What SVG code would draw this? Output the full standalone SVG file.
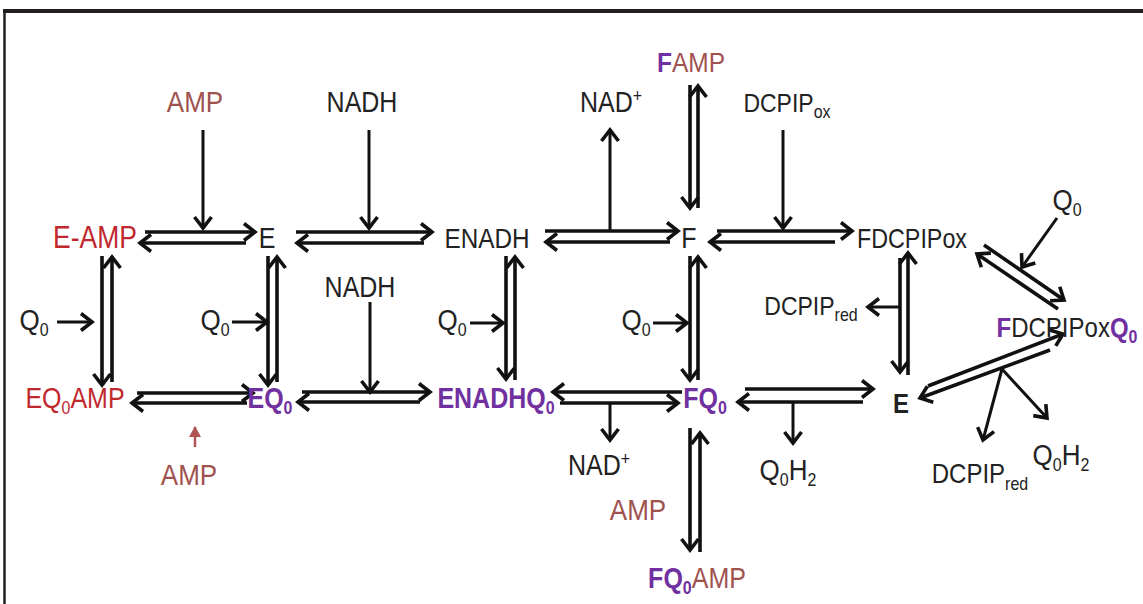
<svg xmlns="http://www.w3.org/2000/svg" width="1143" height="604" viewBox="0 0 1143 604">
<style>
.t{font-family:"Liberation Sans",Arial,sans-serif;font-size:25px;fill:#222;text-anchor:middle}
.s{font-size:16px}
.amp{fill:#a0524f}
.red{fill:#c0282e}
.pur{fill:#7030a0;font-weight:bold}
.c line,.c path{stroke:#111;fill:none}
.d{stroke-width:3.6}
.sg{stroke-width:3}
</style>
<defs>
<marker id="ah" markerUnits="userSpaceOnUse" markerWidth="16" markerHeight="20" viewBox="0 0 16 20" refX="12.5" refY="10" orient="auto" overflow="visible">
<path d="M1.5,1.5 L12.5,10 L1.5,18.5" fill="none" stroke="#111" stroke-width="3.6"/>
</marker>
<marker id="rh" markerUnits="userSpaceOnUse" markerWidth="12" markerHeight="12" viewBox="0 0 12 12" refX="10" refY="6" orient="auto" overflow="visible">
<path d="M0,0 L11,6 L0,12 Z" fill="#b05555"/>
</marker>
</defs>
<rect width="1143" height="604" fill="#fff"/>
<g id="frame">
<line x1="3" y1="11" x2="1143" y2="11" stroke="#231f20" stroke-width="4"/>
<line x1="4.5" y1="9" x2="4.5" y2="604" stroke="#231f20" stroke-width="2.5"/>
</g>
<g id="connectors" class="c">
<line class="d" x1="145" y1="232" x2="255" y2="232" marker-end="url(#ah)"/>
<line class="d" x1="246" y1="243" x2="140" y2="243" marker-end="url(#ah)"/>
<line class="d" x1="296" y1="232" x2="432" y2="232" marker-end="url(#ah)"/>
<line class="d" x1="424" y1="243" x2="297" y2="243" marker-end="url(#ah)"/>
<line class="d" x1="545" y1="231" x2="678" y2="231" marker-end="url(#ah)"/>
<line class="d" x1="670" y1="242" x2="546" y2="242" marker-end="url(#ah)"/>
<line class="d" x1="717" y1="231" x2="852" y2="231" marker-end="url(#ah)"/>
<line class="d" x1="835" y1="242" x2="710" y2="242" marker-end="url(#ah)"/>
<line class="sg" x1="203" y1="130" x2="203" y2="228" marker-end="url(#ah)"/>
<line class="sg" x1="369" y1="130" x2="369" y2="228" marker-end="url(#ah)"/>
<line class="sg" x1="610" y1="230" x2="610" y2="130" marker-end="url(#ah)"/>
<line class="sg" x1="783" y1="130" x2="783" y2="228" marker-end="url(#ah)"/>
<line class="d" x1="690" y1="85" x2="690" y2="208" marker-end="url(#ah)"/>
<line class="d" x1="698" y1="208" x2="698" y2="86" marker-end="url(#ah)"/>
<line class="d" x1="102" y1="256" x2="102" y2="385" marker-end="url(#ah)"/>
<line class="d" x1="112" y1="382" x2="112" y2="257" marker-end="url(#ah)"/>
<line class="d" x1="268" y1="256" x2="268" y2="385" marker-end="url(#ah)"/>
<line class="d" x1="277" y1="382" x2="277" y2="257" marker-end="url(#ah)"/>
<line class="d" x1="506" y1="256" x2="506" y2="379" marker-end="url(#ah)"/>
<line class="d" x1="515" y1="380" x2="515" y2="257" marker-end="url(#ah)"/>
<line class="d" x1="690" y1="256" x2="690" y2="380" marker-end="url(#ah)"/>
<line class="d" x1="698" y1="380" x2="698" y2="257" marker-end="url(#ah)"/>
<line class="d" x1="900" y1="258" x2="900" y2="372" marker-end="url(#ah)"/>
<line class="d" x1="908" y1="375" x2="908" y2="253" marker-end="url(#ah)"/>
<line class="sg" x1="57" y1="322" x2="92" y2="322" marker-end="url(#ah)"/>
<line class="sg" x1="232" y1="322" x2="267" y2="322" marker-end="url(#ah)"/>
<line class="sg" x1="470" y1="323" x2="503" y2="323" marker-end="url(#ah)"/>
<line class="sg" x1="653" y1="323" x2="687" y2="323" marker-end="url(#ah)"/>
<line class="sg" x1="900" y1="307" x2="868" y2="307" marker-end="url(#ah)"/>
<line class="sg" x1="370" y1="302" x2="370" y2="392" marker-end="url(#ah)"/>
<line class="d" x1="137" y1="393" x2="253" y2="393" marker-end="url(#ah)"/>
<line class="d" x1="247" y1="403" x2="132" y2="403" marker-end="url(#ah)"/>
<line class="d" x1="302" y1="392" x2="430" y2="392" marker-end="url(#ah)"/>
<line class="d" x1="420" y1="402" x2="298" y2="402" marker-end="url(#ah)"/>
<line class="d" x1="682" y1="392" x2="553" y2="392" marker-end="url(#ah)"/>
<line class="d" x1="560" y1="403" x2="678" y2="403" marker-end="url(#ah)"/>
<line class="sg" x1="610" y1="403" x2="610" y2="440" marker-end="url(#ah)"/>
<line class="d" x1="745" y1="389" x2="873" y2="389" marker-end="url(#ah)"/>
<line class="d" x1="863" y1="402" x2="738" y2="402" marker-end="url(#ah)"/>
<line class="sg" x1="793" y1="402" x2="793" y2="443" marker-end="url(#ah)"/>
<line class="d" x1="690" y1="428" x2="690" y2="550" marker-end="url(#ah)"/>
<line class="d" x1="700" y1="552" x2="700" y2="433" marker-end="url(#ah)"/>
<line x1="195" y1="447" x2="195" y2="427" style="stroke:#b05555" stroke-width="2.5" marker-end="url(#rh)"/>
<line class="d" x1="984" y1="245" x2="1064" y2="300" marker-end="url(#ah)"/>
<line class="d" x1="1058" y1="309" x2="977" y2="254" marker-end="url(#ah)"/>
<line class="sg" x1="1057" y1="218" x2="1022" y2="267" marker-end="url(#ah)"/>
<line class="d" x1="928" y1="386" x2="1063" y2="334" marker-end="url(#ah)"/>
<line class="d" x1="1050" y1="350" x2="920" y2="398" marker-end="url(#ah)"/>
<line class="sg" x1="1002" y1="369" x2="983" y2="440" marker-end="url(#ah)"/>
<line class="sg" x1="1002" y1="369" x2="1047" y2="418" marker-end="url(#ah)"/>
</g>
<g id="n-amp-top"><text class="t amp" style="font-size:26px" transform="translate(195,112) scale(1,1.15)">AMP</text></g>
<g id="n-nadh-top"><text class="t" transform="translate(362,112) scale(1,1.15)">NADH</text></g>
<g id="n-famp"><text class="t" style="font-size:24.5px" transform="translate(691,72) scale(1,1.15)"><tspan class="pur">F</tspan><tspan class="amp">AMP</tspan></text></g>
<g id="n-nad-top"><text class="t" transform="translate(611,112) scale(1,1.15)">NAD<tspan class="s" dy="-9">+</tspan></text></g>
<g id="n-dcpipox"><text class="t" style="font-size:23px" transform="translate(787,112) scale(1,1.15)">DCPIP<tspan class="s" dy="5">ox</tspan></text></g>
<g id="n-eamp"><text class="t red" style="font-size:26.5px" transform="translate(95,248) scale(1,1.15)">E-AMP</text></g>
<g id="n-e1"><text class="t" transform="translate(267,248) scale(1,1.15)">E</text></g>
<g id="n-enadh"><text class="t" style="font-size:24.3px" transform="translate(487,248) scale(1,1.15)">ENADH</text></g>
<g id="n-f"><text class="t" transform="translate(689,248) scale(1,1.15)">F</text></g>
<g id="n-fdcpipox"><text class="t" style="font-size:23.3px" transform="translate(912,248) scale(1,1.15)">FDCPIPox</text></g>
<g id="n-q0-r"><text class="t" style="font-size:26px" transform="translate(1067,210) scale(1,1.15)">Q<tspan class="s" dy="5">0</tspan></text></g>
<g id="n-q0-1"><text class="t" style="font-size:26px" transform="translate(34,330) scale(1,1.15)">Q<tspan class="s" dy="5">0</tspan></text></g>
<g id="n-q0-2"><text class="t" style="font-size:26px" transform="translate(215,330) scale(1,1.15)">Q<tspan class="s" dy="5">0</tspan></text></g>
<g id="n-nadh-mid"><text class="t" transform="translate(360,297) scale(1,1.15)">NADH</text></g>
<g id="n-q0-3"><text class="t" style="font-size:26px" transform="translate(452,330) scale(1,1.15)">Q<tspan class="s" dy="5">0</tspan></text></g>
<g id="n-q0-4"><text class="t" style="font-size:26px" transform="translate(636,330) scale(1,1.15)">Q<tspan class="s" dy="5">0</tspan></text></g>
<g id="n-dcpipred1"><text class="t" style="font-size:23px" transform="translate(811,315) scale(1,1.15)">DCPIP<tspan class="s" dy="5">red</tspan></text></g>
<g id="n-fdcpipoxq0"><text class="t" style="font-size:24px" transform="translate(1067,337) scale(1,1.15)"><tspan class="pur">F</tspan>DCPIPox<tspan class="pur">Q</tspan><tspan class="s pur" dy="5">0</tspan></text></g>
<g id="n-eq0amp"><text class="t red" transform="translate(75,408) scale(1,1.15)">EQ<tspan class="s" dy="5">0</tspan><tspan dy="-5">AMP</tspan></text></g>
<g id="n-eq0"><text class="t pur" transform="translate(270,408) scale(1,1.15)">EQ<tspan class="s" dy="5">0</tspan></text></g>
<g id="n-enadhq0"><text class="t pur" transform="translate(496,408) scale(1,1.15)">ENADHQ<tspan class="s" dy="5">0</tspan></text></g>
<g id="n-fq0"><text class="t pur" transform="translate(705,408) scale(1,1.15)">FQ<tspan class="s" dy="5">0</tspan></text></g>
<g id="n-e2"><text class="t" style="font-size:24px;font-weight:bold" transform="translate(901,413) scale(1,1.15)">E</text></g>
<g id="n-amp-bot"><text class="t amp" style="font-size:26px" transform="translate(189,485) scale(1,1.15)">AMP</text></g>
<g id="n-nad-bot"><text class="t" transform="translate(599,475) scale(1,1.15)">NAD<tspan class="s" dy="-9">+</tspan></text></g>
<g id="n-amp-low"><text class="t amp" style="font-size:26px" transform="translate(638,520) scale(1,1.15)">AMP</text></g>
<g id="n-fq0amp"><text class="t" transform="translate(697,588) scale(1,1.15)"><tspan class="pur">FQ</tspan><tspan class="s pur" dy="5">0</tspan><tspan class="amp" dy="-5">AMP</tspan></text></g>
<g id="n-q0h2-1"><text class="t" style="font-size:26px" transform="translate(788,480) scale(1,1.15)">Q<tspan class="s" dy="5">0</tspan><tspan dy="-5">H</tspan><tspan class="s" dy="5">2</tspan></text></g>
<g id="n-dcpipred2"><text class="t" style="font-size:24px" transform="translate(980,483) scale(1,1.15)">DCPIP<tspan class="s" dy="6">red</tspan></text></g>
<g id="n-q0h2-2"><text class="t" style="font-size:26px" transform="translate(1061,465) scale(1,1.15)">Q<tspan class="s" dy="5">0</tspan><tspan dy="-5">H</tspan><tspan class="s" dy="5">2</tspan></text></g>
</svg>
